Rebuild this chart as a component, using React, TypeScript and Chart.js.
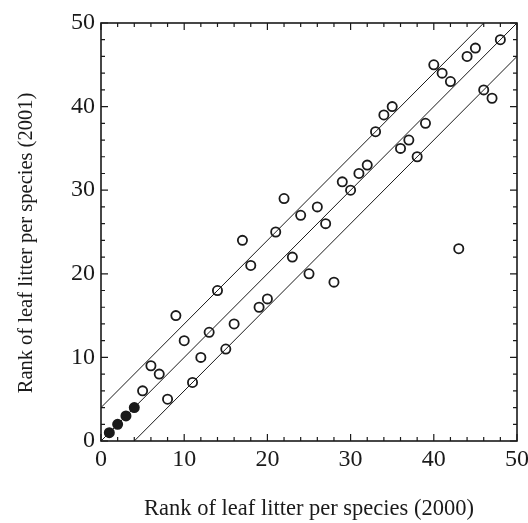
import React, { useEffect, useRef } from "react";
import { Chart, registerables } from "chart.js";

Chart.register(...registerables);

// Filled points (ranks 1-4)
const filledX = [1, 2, 3, 4];
const filledY = [1, 2, 3, 4];

// Open points
const openX = [5, 6, 7, 8, 9, 10, 11, 12, 13, 14, 15, 16, 17, 18, 19, 20, 21, 22, 23, 24, 25, 26, 27, 28, 29, 30, 31, 32, 33, 34, 35, 36, 37, 38, 39, 40, 41, 42, 43, 44, 45, 46, 47, 48];
const openY = [6, 9, 8, 5, 15, 12, 7, 10, 13, 18, 11, 14, 24, 21, 16, 17, 25, 29, 22, 27, 20, 28, 26, 19, 31, 30, 32, 33, 37, 39, 40, 35, 36, 34, 38, 45, 44, 43, 23, 46, 47, 42, 41, 48];

// Reference lines (endpoints)
const upperLine = [[0, 4], [46, 50]];
const middleLine = [[0, 0], [50, 50]];
const lowerLine = [[4, 0], [50, 46]];

const xTitle = "Rank of leaf litter per species (2000)";
const yTitle = "Rank of leaf litter per species (2001)";
const axisMin = 0;
const axisMax = 50;
const majorStep = 10;
const minorStep = 2;

const INK = "#1a1a1a";
const FONT = "'Liberation Serif', 'DejaVu Serif', serif";

const toPts = (xs: number[], ys: number[]) => xs.map((x, i) => ({ x, y: ys[i] }));
const linePts = (l: number[][]) => l.map(([x, y]) => ({ x, y }));

const framePlugin = {
  id: "frameTicks",
  afterDatasetsDraw(chart: any) {
    const { ctx, chartArea, scales } = chart;
    const xs = scales.x;
    const ys = scales.y;
    const { left, right, top, bottom } = chartArea;
    ctx.save();
    ctx.strokeStyle = INK;
    ctx.lineWidth = 1.2;
    ctx.beginPath();
    for (let v = axisMin; v <= axisMax; v += minorStep) {
      const len = v % majorStep === 0 ? 7 : 4;
      const px = xs.getPixelForValue(v);
      const py = ys.getPixelForValue(v);
      ctx.moveTo(px, bottom);
      ctx.lineTo(px, bottom - len);
      ctx.moveTo(px, top);
      ctx.lineTo(px, top + len);
      ctx.moveTo(left, py);
      ctx.lineTo(left + len, py);
      ctx.moveTo(right, py);
      ctx.lineTo(right - len, py);
    }
    ctx.stroke();
    ctx.lineWidth = 1.6;
    ctx.strokeRect(left, top, right - left, bottom - top);

    // y-axis title, placed to the left of the tick labels
    ctx.fillStyle = INK;
    ctx.font = `20.5px ${FONT}`;
    ctx.textAlign = "center";
    ctx.textBaseline = "middle";
    ctx.translate(27, (top + bottom) / 2 + 11);
    ctx.rotate(-Math.PI / 2);
    ctx.fillText(yTitle, 0, 0);
    ctx.restore();
  },
};

export default function App() {
  const ref = useRef<HTMLCanvasElement | null>(null);
  useEffect(() => {
    if (!ref.current) return;
    const lineDs = (l: number[][]) => ({
      type: "line" as const,
      data: linePts(l),
      borderColor: INK,
      borderWidth: 1,
      pointRadius: 0,
      fill: false,
      tension: 0,
    });
    const chart = new Chart(ref.current, {
      type: "scatter",
      data: {
        datasets: [
          lineDs(upperLine),
          lineDs(middleLine),
          lineDs(lowerLine),
          {
            data: toPts(openX, openY),
            pointRadius: 4.6,
            pointBorderWidth: 1.8,
            pointBackgroundColor: "#ffffff",
            pointBorderColor: INK,
          },
          {
            data: toPts(filledX, filledY),
            pointRadius: 4.6,
            pointBorderWidth: 1.8,
            pointBackgroundColor: INK,
            pointBorderColor: INK,
          },
        ] as any,
      },
      options: {
        responsive: false,
        animation: false,
        devicePixelRatio: 1,
        layout: { padding: { top: 23, right: 11, left: 0, bottom: 0 } },
        plugins: { legend: { display: false }, tooltip: { enabled: false } },
        scales: {
          x: {
            type: "linear",
            min: axisMin,
            max: axisMax,
            grid: { display: false, drawTicks: false },
            border: { display: false },
            ticks: {
              stepSize: majorStep,
              color: INK,
              font: { family: FONT, size: 24 },
              padding: 4,
              maxRotation: 0,
            },
            title: {
              display: true,
              text: xTitle,
              color: INK,
              font: { family: FONT, size: 22.5 },
              padding: { top: 0, bottom: 0 },
            },
            afterFit: (s: any) => {
              s.height = 82;
              s.paddingLeft = 0;
              s.paddingRight = 0;
            },
          },
          y: {
            type: "linear",
            min: axisMin,
            max: axisMax,
            grid: { display: false, drawTicks: false },
            border: { display: false },
            ticks: {
              stepSize: majorStep,
              color: INK,
              font: { family: FONT, size: 24 },
              padding: 6,
            },
            title: { display: false },
            afterFit: (s: any) => {
              s.width = 101;
              s.paddingTop = 0;
              s.paddingBottom = 0;
            },
          },
        },
      } as any,
      plugins: [framePlugin],
    });
    return () => chart.destroy();
  }, []);
  return (
    <div style={{ position: "fixed", left: 0, top: 0, width: 528, height: 523, background: "#fff" }}>
      <canvas ref={ref} width={528} height={523} style={{ display: "block" }} />
    </div>
  );
}
